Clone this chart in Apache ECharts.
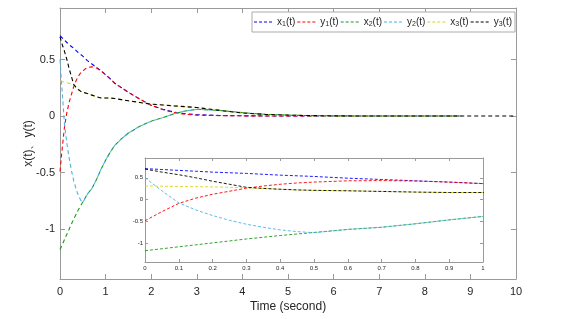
<!DOCTYPE html>
<html><head><meta charset="utf-8">
<script src="https://cdn.jsdelivr.net/npm/echarts@6/dist/echarts.min.js"></script>
<style>html,body{margin:0;padding:0;background:#fff}#c{width:566px;height:319px}</style>
</head><body><div id="c"></div>
<script>
const t  = [0,0.05,0.1,0.15,0.2,0.25,0.3,0.35,0.4,0.45,0.5,0.6,0.7,0.8,0.9,1.0,1.1,1.2,1.35,1.5,1.75,2,2.25,2.5,2.75,3,3.5,4,4.5,5,5.5,6,7,8,8.8,10];
const x1 = [0.71,0.69,0.67,0.65,0.63,0.615,0.60,0.58,0.56,0.545,0.53,0.49,0.46,0.43,0.40,0.365,0.33,0.29,0.25,0.21,0.15,0.095,0.06,0.035,0.02,0.012,0.005,0.002,0.001,0,0,0,0,0,0,null];
const y1 = [-0.49,-0.28,-0.09,0.03,0.12,0.19,0.26,0.31,0.35,0.38,0.40,0.43,0.435,0.425,0.40,0.365,0.33,0.29,0.25,0.21,0.15,0.095,0.058,0.03,0.015,0.008,0.004,0.002,0.001,0,0,0,0,0,0,null];
const x2 = [-1.18,-1.135,-1.09,-1.045,-1.00,-0.955,-0.91,-0.87,-0.83,-0.795,-0.76,-0.69,-0.64,-0.56,-0.47,-0.39,-0.32,-0.26,-0.2,-0.15,-0.09,-0.045,-0.015,0.02,0.045,0.06,0.05,0.03,0.015,0.008,0.004,0.002,0,0,0,null];
const y2 = [0.50,0.20,-0.08,-0.24,-0.37,-0.48,-0.57,-0.64,-0.70,-0.74,-0.765,-0.69,-0.64,-0.56,-0.47,-0.39,-0.32,-0.26,-0.2,-0.15,-0.09,-0.045,-0.015,0.02,0.045,0.06,0.05,0.03,0.015,0.008,0.004,0.002,0,0,0,null];
const x3 = [0.31,0.305,0.30,0.295,0.29,0.28,0.27,0.25,0.235,0.22,0.21,0.20,0.185,0.17,0.16,0.16,0.16,0.155,0.145,0.135,0.12,0.105,0.098,0.09,0.083,0.075,0.05,0.027,0.015,0.008,0.004,0.002,0,0,0,null];
const y3 = [0.70,0.63,0.57,0.50,0.42,0.35,0.28,0.255,0.235,0.22,0.21,0.20,0.185,0.17,0.16,0.16,0.16,0.155,0.145,0.135,0.12,0.105,0.098,0.09,0.083,0.075,0.05,0.027,0.015,0.008,0.004,0.002,0,0,0,0];
const seriesNames = ['x1(t)','y1(t)','x2(t)','y2(t)','x3(t)','y3(t)'];
const seriesVals = [x1,y1,x2,y2,x3,y3];
const colors = ['#0000ff','#ff0000','#1a9a1a','#4db3e6','#d6d61c','#000000'];
const yTicks = [-1,-0.5,0,0.5];
const xInsetMax = 1;

const FONT = 'Liberation Sans, Arial, Helvetica, sans-serif';
const AX = '#9a9a9a';
const TXT = '#262626';

function pairs(arr){ return t.map((v,i)=>[v, arr[i]]); }

function mkX(grid, pos, showLabel, opts){
  return Object.assign({
    type:'value', gridIndex:grid, position:pos,
    axisLine:{show:true, onZero:false, lineStyle:{color:AX,width:1}},
    axisTick:{show:true, inside:true, length:5, lineStyle:{color:AX}},
    axisLabel:{show:showLabel, color:TXT, fontFamily:FONT, fontSize:11, margin:7},
    splitLine:{show:false}
  }, opts);
}
function mkY(grid, pos, showLabel, opts){
  return Object.assign({
    type:'value', gridIndex:grid, position:pos, min:-1.44, max:0.955,
    axisLine:{show:true, onZero:false, lineStyle:{color:AX,width:1}},
    axisTick:{show:true, inside:true, length:5, customValues:yTicks, lineStyle:{color:AX}},
    axisLabel:{show:showLabel, customValues:yTicks, color:TXT, fontFamily:FONT, fontSize:11, margin:5},
    splitLine:{show:false}
  }, opts);
}

const xAxis = [
  mkX(0,'bottom',true,{min:0,max:10,interval:1, name:'Time (second)', nameLocation:'middle', nameGap:22,
      nameMoveOverlap:false, nameTextStyle:{color:TXT,fontFamily:FONT,fontSize:12}}),
  mkX(0,'top',false,{min:0,max:10,interval:1}),
  mkX(1,'bottom',true,{min:0,max:xInsetMax,interval:0.1}),
  mkX(1,'top',false,{min:0,max:xInsetMax,interval:0.1})
];
xAxis[2].axisLabel.fontSize = 6; xAxis[2].axisLabel.margin = 3;
xAxis[2].axisTick.length = 3; xAxis[3].axisTick.length = 3;

const yAxis = [
  mkY(0,'left',true,{name:'x(t)、y(t)', nameLocation:'middle', nameGap:25, nameRotate:90,
      nameMoveOverlap:false, nameTextStyle:{color:TXT,fontFamily:FONT,fontSize:12}}),
  mkY(0,'right',false,{}),
  mkY(1,'left',true,{}),
  mkY(1,'right',false,{})
];
yAxis[2].axisLabel.fontSize = 6; yAxis[2].axisLabel.margin = 2;
yAxis[2].axisTick.length = 3; yAxis[3].axisTick.length = 3;

const series = [];
seriesVals.forEach((arr,i)=>{
  series.push({type:'line', name:seriesNames[i], xAxisIndex:0, yAxisIndex:0, data:pairs(arr),
    symbol:'none', smooth:false, clip:true, color:colors[i],
    lineStyle:{color:colors[i], width:1.1, type:[4,3]}, z:2+i});
  series.push({type:'line', name:seriesNames[i], xAxisIndex:2, yAxisIndex:2, data:pairs(arr),
    symbol:'none', smooth:false, clip:true, color:colors[i],
    lineStyle:{color:colors[i], width:0.9, type:[3,2]}, z:2+i});
});

function legendFmt(name){
  const m = name.match(/^([a-z])(\d)(\(t\))$/);
  return '{n|'+m[1]+'}{s|'+m[2]+'}{n|'+m[3]+'}';
}

const dashIcon = 'path://M0,0H3V1H0Z M5,0H8V1H5Z M10,0H13V1H10Z M15,0H18V1H15Z';

const option = {
  animation:false,
  backgroundColor:'#fff',
  grid:[
    {left:60, top:8, width:456, height:271, show:false},
    {left:145, top:158, width:338, height:104, show:true, backgroundColor:'#fff', borderWidth:0}
  ],
  legend:{
    data:seriesNames.map(n=>({name:n, icon:dashIcon})), left:252, top:12, orient:'horizontal',
    itemWidth:18, itemHeight:1.2, itemGap:2,
    padding:[5,3,4,2], borderColor:'#aaa', borderWidth:1, backgroundColor:'#fff',
    formatter:legendFmt,
    textStyle:{fontFamily:FONT, fontSize:10, color:TXT,
      rich:{n:{fontSize:10, fontFamily:FONT, color:TXT}, s:{fontSize:7, fontFamily:FONT, color:TXT, padding:[5,0,0,0]}}}
  },
  xAxis, yAxis, series
};
const chart = echarts.init(document.getElementById('c'), null, {renderer:'canvas'});
chart.setOption(option);
</script></body></html>
